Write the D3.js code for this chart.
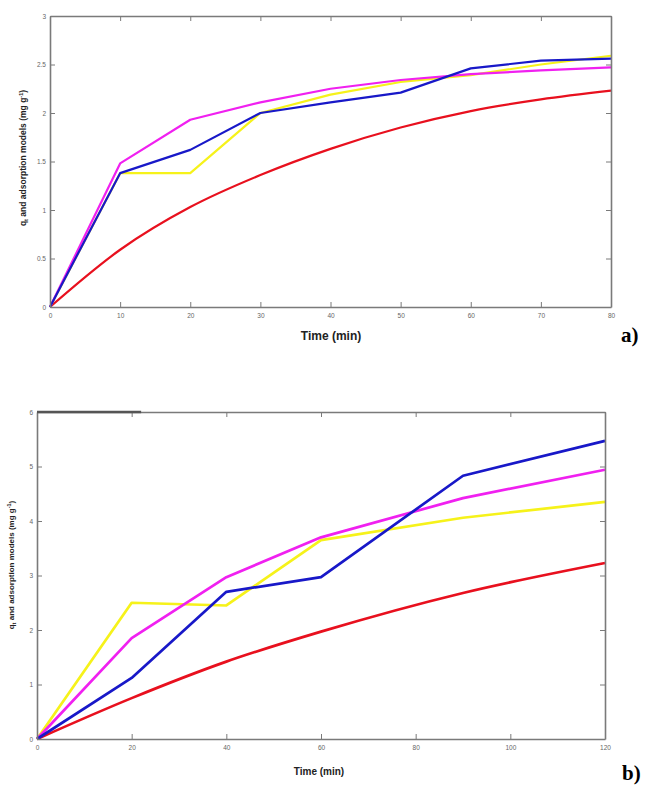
<!DOCTYPE html>
<html>
<head>
<meta charset="utf-8">
<script src="https://cdn.jsdelivr.net/npm/d3@7"></script>
<style>
  body { margin: 0; background: #fff; }
  svg { display: block; }
  text { font-family: "Liberation Sans", Arial, sans-serif; }
</style>
</head>
<body>
<div id="vis"></div>
<script>
var width = 651
var height = 785

// panel a data (time in min, q in mg/g)
var timeA = [0, 10, 20, 30, 40, 50, 60, 70, 80]
var magentaA = [0, 1.48, 1.93, 2.11, 2.25, 2.34, 2.40, 2.44, 2.47]
var blueA = [0, 1.38, 1.62, 2.0, 2.11, 2.21, 2.46, 2.54, 2.56]
var yellowA = [0, 1.38, 1.38, 2.0, 2.19, 2.32, 2.39, 2.50, 2.59]
var redA = [0, 0.59, 1.03, 1.36, 1.63, 1.85, 2.02, 2.14, 2.23]
var xTicksA = [0, 10, 20, 30, 40, 50, 60, 70, 80]
var yTicksA = [0, 0.5, 1, 1.5, 2, 2.5, 3]

// panel b data
var timeB = [0, 20, 40, 60, 90, 120]
var magentaB = [0, 1.85, 2.97, 3.70, 4.42, 4.94]
var blueB = [0, 1.12, 2.70, 2.97, 4.83, 5.47]
var yellowB = [0, 2.50, 2.45, 3.65, 4.06, 4.35]
var redB = [0, 0.75, 1.42, 1.97, 2.68, 3.23]
var xTicksB = [0, 20, 40, 60, 80, 100, 120]
var yTicksB = [0, 1, 2, 3, 4, 5, 6]

var colors = { red: "#e8101e", yellow: "#f6f21a", magenta: "#f020f0", blue: "#1818c8" }

var svg = d3.select("#vis")
  .append("svg")
  .attr("width", width)
  .attr("height", height)

function drawPanel(cfg) {
  var x = d3.scaleLinear().domain(cfg.xDomain).range([cfg.left, cfg.right])
  var y = d3.scaleLinear().domain(cfg.yDomain).range([cfg.bottom, cfg.top])
  var g = svg.append("g")

  //lines
  var series = [
    { v: cfg.red, c: colors.red, curve: d3.curveMonotoneX },
    { v: cfg.yellow, c: colors.yellow, curve: d3.curveLinear },
    { v: cfg.magenta, c: colors.magenta, curve: d3.curveLinear },
    { v: cfg.blue, c: colors.blue, curve: d3.curveLinear }
  ]
  series.forEach(function(s) {
    var line = d3.line()
      .x(function(d, i) { return x(cfg.time[i]) })
      .y(function(d) { return y(d) })
      .curve(s.curve)
    g.append("path")
      .datum(s.v)
      .attr("d", line)
      .attr("fill", "none")
      .attr("stroke", s.c)
      .attr("stroke-width", cfg.lineWidth)
      .attr("stroke-linejoin", "round")
  })

  //axes, ticks inward on all four sides
  var axisColor = "#7a7a7a"
  var bottom = g.append("g").attr("transform", "translate(0," + cfg.bottom + ")")
    .call(d3.axisBottom(x).tickValues(cfg.xTicks).tickSizeInner(-5).tickSizeOuter(0).tickPadding(6))
  var left = g.append("g").attr("transform", "translate(" + cfg.left + ",0)")
    .call(d3.axisLeft(y).tickValues(cfg.yTicks).tickSizeInner(-5).tickSizeOuter(0).tickPadding(4)
      .tickFormat(d3.format("")))
  var top = g.append("g").attr("transform", "translate(0," + cfg.top + ")")
    .call(d3.axisTop(x).tickValues(cfg.xTicks).tickSizeInner(-5).tickSizeOuter(0).tickFormat(""))
  var right = g.append("g").attr("transform", "translate(" + cfg.right + ",0)")
    .call(d3.axisRight(y).tickValues(cfg.yTicks).tickSizeInner(-5).tickSizeOuter(0).tickFormat(""))

  ;[bottom, left, top, right].forEach(function(a) {
    a.select(".domain").attr("stroke", axisColor).attr("stroke-width", 1.6)
    a.selectAll(".tick line").attr("stroke", axisColor).attr("stroke-width", 1)
    a.selectAll(".tick text").attr("fill", "#666").style("font-size", "6.5px")
  })

  //axis titles
  g.append("text")
    .attr("x", cfg.xLabelX)
    .attr("y", cfg.xLabelY)
    .attr("text-anchor", "middle")
    .style("font-size", cfg.xLabelSize)
    .style("font-weight", "bold")
    .attr("fill", "#222")
    .text("Time (min)")

  var yl = g.append("text")
    .attr("transform", "translate(" + cfg.yLabelX + "," + cfg.yLabelY + ") rotate(-90)")
    .attr("text-anchor", "middle")
    .style("font-size", cfg.yLabelSize)
    .style("font-weight", "bold")
    .attr("fill", "#222")
  yl.append("tspan").text("q")
  yl.append("tspan").attr("dy", 2).style("font-size", "5.5px").text("t")
  yl.append("tspan").attr("dy", -2).text(" and adsorption models (mg g")
  yl.append("tspan").attr("dy", -3).style("font-size", "5.5px").text("-1")
  yl.append("tspan").attr("dy", 3).text(")")

  //panel letter
  g.append("text")
    .attr("x", cfg.letterX)
    .attr("y", cfg.letterY)
    .style("font-family", "'Liberation Serif', 'Times New Roman', serif")
    .style("font-size", "21px")
    .style("font-weight", "bold")
    .text(cfg.letter)

  return { x: x, y: y }
}

drawPanel({
  xDomain: [0, 80], yDomain: [0, 3],
  left: 50, right: 611, top: 16, bottom: 307,
  time: timeA, red: redA, yellow: yellowA, magenta: magentaA, blue: blueA,
  xTicks: xTicksA, yTicks: yTicksA, lineWidth: 2.2,
  xLabelX: 331, xLabelY: 340, xLabelSize: "12px",
  yLabelX: 26, yLabelY: 158, yLabelSize: "8.5px",
  letter: "a)", letterX: 621, letterY: 342
})

var pb = drawPanel({
  xDomain: [0, 120], yDomain: [0, 6],
  left: 37, right: 605, top: 412, bottom: 739,
  time: timeB, red: redB, yellow: yellowB, magenta: magentaB, blue: blueB,
  xTicks: xTicksB, yTicks: yTicksB, lineWidth: 2.7,
  xLabelX: 319, xLabelY: 775, xLabelSize: "10px",
  yLabelX: 14, yLabelY: 565, yLabelSize: "8px",
  letter: "b)", letterX: 622, letterY: 780
})

// darker heavy stroke on the top-left of panel b frame
svg.append("line")
  .attr("x1", pb.x(0)).attr("x2", pb.x(22))
  .attr("y1", pb.y(6)).attr("y2", pb.y(6))
  .attr("stroke", "#555").attr("stroke-width", 2.6)
</script>
</body>
</html>
